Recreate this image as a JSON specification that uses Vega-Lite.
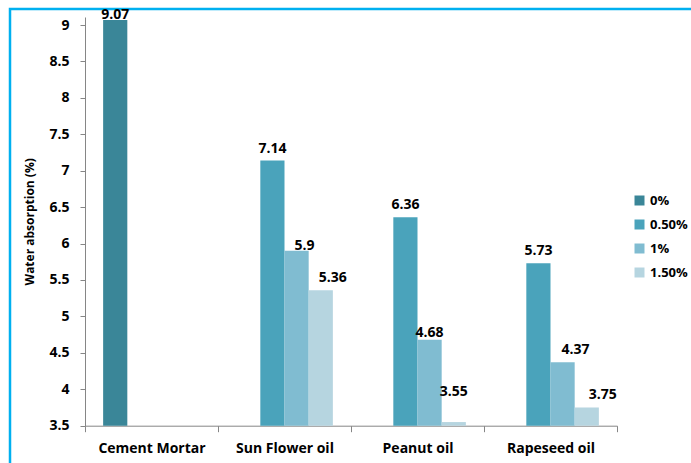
{
  "$schema": "https://vega.github.io/schema/vega-lite/v6.json",
  "width": 684,
  "height": 457,
  "autosize": {"type": "none"},
  "padding": {"left": 10, "top": 9, "right": 0, "bottom": 0},
  "background": "white",
  "config": {
    "font": "Open Sans",
    "view": {"stroke": "#00B0F0", "strokeWidth": 2.5},
    "axis": {
      "labelFont": "Open Sans",
      "labelFontWeight": "bold",
      "labelFontSize": 14,
      "labelColor": "#000000",
      "domainColor": "#868686",
      "tickColor": "#868686",
      "grid": false,
      "titleFont": "Open Sans",
      "titleFontWeight": "bold",
      "titleColor": "#000000"
    }
  },
  "data": {
    "values": [
      {"group": "Cement Mortar", "dose": "0%", "absorption": 9.07},
      {"group": "Sun Flower oil", "dose": "0.50%", "absorption": 7.14},
      {"group": "Sun Flower oil", "dose": "1%", "absorption": 5.9},
      {"group": "Sun Flower oil", "dose": "1.50%", "absorption": 5.36},
      {"group": "Peanut oil", "dose": "0.50%", "absorption": 6.36},
      {"group": "Peanut oil", "dose": "1%", "absorption": 4.68},
      {"group": "Peanut oil", "dose": "1.50%", "absorption": 3.55},
      {"group": "Rapeseed oil", "dose": "0.50%", "absorption": 5.73},
      {"group": "Rapeseed oil", "dose": "1%", "absorption": 4.37},
      {"group": "Rapeseed oil", "dose": "1.50%", "absorption": 3.75}
    ]
  },
  "encoding": {
    "x": {
      "field": "group",
      "type": "nominal",
      "sort": ["Cement Mortar", "Sun Flower oil", "Peanut oil", "Rapeseed oil"],
      "scale": {"range": [75, 607], "paddingInner": 0, "paddingOuter": 0},
      "axis": {
        "title": null,
        "offset": -40.3,
        "tickBand": "extent",
        "tickSize": 6,
        "labelPadding": 10,
        "labelAngle": 0
      }
    },
    "xOffset": {
      "field": "dose",
      "type": "nominal",
      "scale": {"domain": ["0%", "0.50%", "1%", "1.50%"], "paddingInner": 0, "paddingOuter": 0.75}
    },
    "y": {
      "field": "absorption",
      "type": "quantitative",
      "scale": {"domain": [3.5, 9.11], "range": [416.7, 8], "zero": false, "nice": false},
      "axis": {
        "title": "Water absorption (%)",
        "titleFontSize": 12,
        "titlePadding": 12,
        "values": [3.5, 4, 4.5, 5, 5.5, 6, 6.5, 7, 7.5, 8, 8.5, 9],
        "format": ".2~f",
        "offset": -75,
        "tickSize": 5,
        "labelPadding": 11
      }
    }
  },
  "layer": [
    {
      "mark": {"type": "bar"},
      "encoding": {
        "y2": {"datum": 3.5},
        "color": {
          "field": "dose",
          "type": "nominal",
          "scale": {
            "domain": ["0%", "0.50%", "1%", "1.50%"],
            "range": ["#3A8698", "#4AA3BB", "#80BCD1", "#B6D5E0"]
          },
          "legend": {
            "title": null,
            "orient": "none",
            "legendX": 623,
            "legendY": 185,
            "symbolType": "square",
            "symbolSize": 100,
            "symbolStrokeWidth": 0,
            "labelFont": "Open Sans",
            "labelFontSize": 13,
            "labelFontWeight": "bold",
            "labelColor": "#000000",
            "labelOffset": 4,
            "rowPadding": 10,
            "padding": 0
          }
        }
      }
    },
    {
      "mark": {
        "type": "text",
        "font": "Open Sans",
        "fontWeight": "bold",
        "fontSize": 14,
        "color": "#000000",
        "baseline": "alphabetic",
        "dx": {"expr": "datum.group==='Sun Flower oil'&&datum.dose==='1%'?8:datum.group==='Sun Flower oil'&&datum.dose==='1.50%'?12:datum.group==='Rapeseed oil'&&datum.dose==='1%'?13:datum.group==='Rapeseed oil'&&datum.dose==='1.50%'?16:0"},
        "dy": {"expr": "datum.group==='Cement Mortar'?-1:datum.group==='Sun Flower oil'&&datum.dose==='1%'?-1:datum.group==='Peanut oil'&&datum.dose==='1%'?-3:datum.group==='Peanut oil'&&datum.dose==='1.50%'?-26:-8"}
      },
      "encoding": {
        "text": {"field": "absorption", "type": "quantitative", "format": ".2~f"}
      }
    }
  ]
}
